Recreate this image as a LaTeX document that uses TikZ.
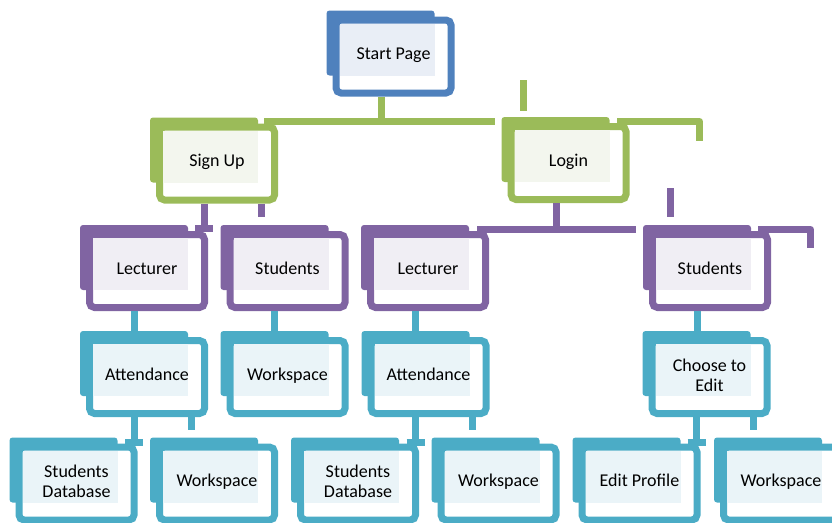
\documentclass[tikz,border=0pt]{standalone}
\usepackage{fontspec}
\setmainfont{Carlito}
\definecolor{cblue}{HTML}{4F81BD}
\definecolor{lblue}{HTML}{E9EEF6}
\definecolor{cgreen}{HTML}{9BBB59}
\definecolor{lgreen}{HTML}{F3F6EE}
\definecolor{cpurple}{HTML}{8064A2}
\definecolor{lpurple}{HTML}{F0EEF4}
\definecolor{cteal}{HTML}{4BACC6}
\definecolor{lteal}{HTML}{EAF4F8}
\tikzset{
  boxtext/.style={minimum width=122pt, minimum height=80pt, inner sep=0pt,
    align=center, font=\fontsize{18}{20}\selectfont, text=black,
    execute at begin node=\strut, execute at end node=\strut},
  conn/.style={line width=7pt, line cap=butt, line join=round},
  gconn/.style={conn, draw=cgreen},
  pconn/.style={conn, draw=cpurple},
  tconn/.style={conn, draw=cteal},
}
% name, x, y, colour, light colour, text, text offset
\newcommand\smartbox[7][-1]{%
  \begin{scope}[shift={(#3,#4)}]
    \fill[#5, rounded corners=3pt] (-67,-46) rectangle (41,19);
    \draw[#5, line width=7pt, fill=white, rounded corners=5pt] (-57.5,-36.5) rectangle (57.5,36.5);
    \fill[#6] (-54,-33) rectangle (41,19);
    \node[boxtext] (#2) at (0,0) {};
    \node[boxtext] at (0,#1) {#7};
  \end{scope}}
% parent with two child stubs: vertical, nub, second stub
\newcommand\stubpair[2]{%
  \draw[#2] ([xshift=-13pt]#1.south) -- ++(0,26) coordinate (#1-j);
  \draw[#2] ([xshift=-9pt,yshift=1pt]#1-j) -- ++(18,0);
  \draw[#2] ([xshift=44pt]#1.south) -- ++(0,13);}
\begin{document}
\begin{tikzpicture}[x=1pt, y=-1pt]
\useasboundingbox (0,0) rectangle (832,522);
\clip (0,0) rectangle (832,522);

\smartbox{start}{393.5}{56.5}{cblue}{lblue}{Start Page}
\smartbox{signup}{217}{163.5}{cgreen}{lgreen}{Sign Up}
\smartbox{login}{568.5}{163}{cgreen}{lgreen}{Login}
\smartbox{lect1}{147}{271}{cpurple}{lpurple}{Lecturer}
\smartbox{stud1}{287.5}{271}{cpurple}{lpurple}{Students}
\smartbox{lect2}{428}{271}{cpurple}{lpurple}{Lecturer}
\smartbox{stud2}{710}{271}{cpurple}{lpurple}{Students}
\smartbox{att1}{147}{377}{cteal}{lteal}{Attendance}
\smartbox{ws1}{287.5}{377}{cteal}{lteal}{Workspace}
\smartbox{att2}{428.5}{377}{cteal}{lteal}{Attendance}
\smartbox[1]{choose}{709.5}{377}{cteal}{lteal}{Choose to\\Edit}
\smartbox[1]{db1}{76.5}{483.5}{cteal}{lteal}{Students\\Database}
\smartbox{ws2}{217}{483.5}{cteal}{lteal}{Workspace}
\smartbox[1]{db2}{358}{483.5}{cteal}{lteal}{Students\\Database}
\smartbox{ws3}{498.5}{483.5}{cteal}{lteal}{Workspace}
\smartbox{edit}{639.5}{483.5}{cteal}{lteal}{Edit Profile}
\smartbox{ws4}{781}{483.5}{cteal}{lteal}{Workspace}

% green connectors
\draw[gconn] ([xshift=-12.5pt]start.south) -- ++(0,24) coordinate (gj);
\coordinate (gl) at (264,121);
\coordinate (gr) at (495,121);
\draw[gconn] (gl) -- (gr);
\coordinate (gt1) at (523.5,80);
\coordinate (gt2) at (523.5,111);
\draw[gconn] (gt1) -- (gt2);
\coordinate (gr1) at (617,121.5);
\coordinate (gr2) at (699.5,121.5);
\coordinate (gr3) at (699.5,141);
\draw[gconn] (gr1) -- (gr2) -- (gr3);

% purple connectors
\stubpair{signup}{pconn}
\draw[pconn] ([xshift=-12.5pt]login.south) -- ++(0,26);
\coordinate (pl) at (477,229);
\coordinate (pr) at (636,229);
\draw[pconn] (pl) -- (pr);
\coordinate (pt1) at (670,188);
\coordinate (pt2) at (670,217);
\draw[pconn] (pt1) -- (pt2);
\coordinate (pr1) at (758,229.5);
\coordinate (pr2) at (810.5,229.5);
\coordinate (pr3) at (810.5,248);
\draw[pconn] (pr1) -- (pr2) -- (pr3);

% teal connectors
\draw[tconn] ([xshift=-13pt]lect1.south) -- ([xshift=-13pt]lect1.south |- att1.north);
\draw[tconn] ([xshift=-13pt]stud1.south) -- ([xshift=-13pt]stud1.south |- ws1.north);
\draw[tconn] ([xshift=-13pt]lect2.south) -- ([xshift=-13pt]lect2.south |- att2.north);
\draw[tconn] ([xshift=-13pt]stud2.south) -- ([xshift=-13pt]stud2.south |- choose.north);
\stubpair{att1}{tconn}
\stubpair{att2}{tconn}
\stubpair{choose}{tconn}
\end{tikzpicture}
\end{document}
